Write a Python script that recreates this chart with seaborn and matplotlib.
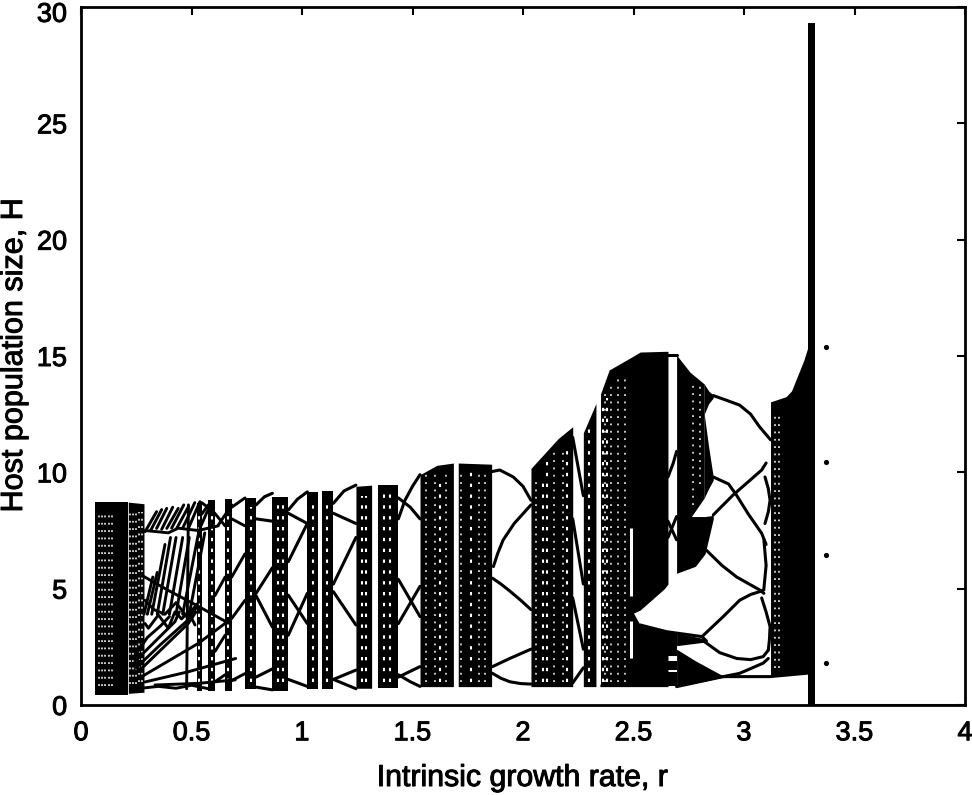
import matplotlib
matplotlib.use('Agg')
import matplotlib.pyplot as plt
import matplotlib.patheffects as pe
from matplotlib.transforms import ScaledTranslation
import pandas as pd
import seaborn as sns

# --- Data ---
# solid chaotic bands: r positions with lower and upper envelope of H
band_r = [[0.063, 0.214], [0.214, 0.285], [0.523, 0.546], [0.576, 0.606], [0.652, 0.682], [0.742, 0.792],
          [0.866, 0.938], [1.024, 1.074], [1.089, 1.142], [1.244, 1.315], [1.345, 1.436],
          [1.534, 1.61, 1.685], [1.707, 1.858], [2.036, 2.16, 2.225], [2.273, 2.33],
          [2.348, 2.39, 2.5], [2.5, 2.53, 2.64, 2.656], [2.5, 2.53, 2.656],
          [2.695, 2.756, 2.82], [2.82, 2.84, 2.861], [2.82, 2.84, 2.861],
          [2.695, 2.78, 2.824, 2.861], [2.695, 2.82], [2.695, 2.78, 2.906],
          [2.656, 2.695], [2.656, 2.695], [2.656, 2.695],
          [3.12, 3.19, 3.215, 3.27, 3.3], [3.29, 3.32]]
band_low = [[0.43, 0.43], [0.5, 0.55], [0.62, 0.62], [0.62, 0.62], [0.62, 0.62], [0.7, 0.7],
            [0.62, 0.62], [0.68, 0.68], [0.68, 0.68], [0.72, 0.72], [0.72, 0.72],
            [0.79, 0.79, 0.79], [0.79, 0.79], [0.79, 0.79, 0.79], [0.79, 0.79],
            [0.79, 0.79, 0.79], [3.95, 4.08, 5.0, 5.2], [0.79, 0.79, 0.79],
            [8.02, 8.02, 8.9], [12.5, 12.95, 13.2], [8.9, 9.3, 9.67],
            [5.66, 5.96, 6.5, 8.0], [2.55, 2.7], [0.79, 0.95, 1.2],
            [2.1, 2.1], [1.5, 1.5], [0.8, 0.8],
            [1.3, 1.33, 1.35, 1.38, 1.4], [0, 0]]
band_high = [[8.72, 8.72], [8.72, 8.65], [8.7, 8.7], [8.8, 8.8], [8.85, 8.85], [8.9, 8.9],
             [8.95, 8.95], [9.15, 9.15], [9.2, 9.2], [9.4, 9.45], [9.45, 9.45],
             [9.9, 10.3, 10.4], [10.4, 10.35], [10.17, 11.46, 11.96], [11.7, 12.96],
             [13.3, 14.4, 15.0], [15.0, 15.17, 15.2, 15.2], [3.95, 3.44, 3.15],
             [15.04, 14.3, 13.8], [13.8, 13.5, 13.32], [12.5, 11.1, 9.8],
             [8.1, 8.1, 8.1, 8.15], [3.1, 2.85], [2.4, 1.9, 1.25],
             [3.1, 3.1], [1.9, 1.9], [1.4, 1.4],
             [13.03, 13.25, 13.5, 14.8, 15.7], [29.3, 29.3]]

# fan of thin lines between the first band and r = 0.75
fan_r = [
    # rays out of the lower left corner
    [0.259, 0.486, 0.52], [0.275, 0.531, 0.682, 0.742], [0.29, 0.486, 0.70], [0.335, 0.531, 0.698],
    [0.244, 0.425, 0.445], [0.25, 0.36, 0.478, 0.523], [0.25, 0.30, 0.36, 0.40],
    # long parallel diagonals, lower half
    [0.285, 0.325], [0.30, 0.345], [0.32, 0.38], [0.345, 0.405], [0.37, 0.43], [0.40, 0.46], [0.43, 0.49], [0.46, 0.53],
    [0.49, 0.56],
    # shorter diagonals, upper half
    [0.29, 0.342], [0.315, 0.365], [0.342, 0.388], [0.365, 0.415], [0.388, 0.44], [0.41, 0.465], [0.433, 0.486],
    [0.46, 0.515], [0.486, 0.538], [0.538, 0.591], [0.621, 0.682],
    # wavy crossings
    [0.29, 0.395, 0.44, 0.53, 0.621], [0.29, 0.305, 0.35, 0.395, 0.425, 0.455, 0.486, 0.516],
    [0.27, 0.35, 0.43, 0.5, 0.576], [0.29, 0.33, 0.38, 0.43, 0.478, 0.54],
    [0.478, 0.486], [0.27, 0.40, 0.52, 0.652], [0.546, 0.60, 0.652], [0.606, 0.652], [0.606, 0.652],
    [0.682, 0.742], [0.682, 0.742], [0.682, 0.742], [0.682, 0.742], [0.546, 0.576], [0.606, 0.652],
]
fan_H = [
    [1.43, 3.51, 4.0], [1.22, 2.65, 3.72, 4.5], [0.99, 1.43, 2.0], [0.86, 0.93, 1.08],
    [1.87, 3.58, 4.0], [1.6, 2.6, 3.6, 4.2], [2.2, 2.9, 3.4, 3.8],
    [3.9, 5.5], [3.9, 5.7], [3.9, 6.9], [3.9, 7.2], [3.9, 7.2], [3.9, 7.2], [3.9, 7.2], [3.9, 7.3],
    [3.9, 7.4],
    [7.45, 8.31], [7.5, 8.4], [7.59, 8.45], [7.55, 8.5], [7.59, 8.45], [7.6, 8.6], [7.59, 8.52],
    [7.6, 8.7], [7.59, 8.74], [7.6, 8.74], [7.73, 8.6],
    [7.5, 7.4, 7.6, 7.5, 7.7], [3.5, 3.3, 3.87, 3.3, 4.0, 3.7, 4.0, 3.44],
    [0.72, 0.8, 0.72, 0.85, 0.7], [4.5, 4.1, 3.9, 4.4, 3.8, 4.5],
    [0.7, 8.6], [5.6, 4.9, 4.3, 3.6], [8.7, 8.3, 7.7], [4.7, 5.5], [1.0, 1.3],
    [8.5, 8.9], [8.0, 7.7], [5.5, 6.5], [1.05, 1.35], [8.2, 8.6], [2.3, 3.0],
]

# periodic windows, one list of points per branch
branch_r = [
    [3.30, 4.0],
    [0.792, 0.83, 0.866], [0.792, 0.866], [0.792, 0.866], [0.792, 0.866], [0.792, 0.866], [0.792, 0.866],
    [0.938, 0.98, 1.024], [0.938, 1.024], [0.938, 1.024], [0.938, 1.024], [0.938, 1.024], [0.938, 1.024],
    [1.142, 1.19, 1.244], [1.142, 1.244], [1.142, 1.244], [1.142, 1.244], [1.142, 1.244], [1.142, 1.244],
    [1.436, 1.466, 1.50, 1.534], [1.436, 1.49, 1.534], [1.436, 1.534], [1.436, 1.534], [1.436, 1.534], [1.436, 1.49, 1.534],
    [1.858, 1.895, 1.956, 2.0, 2.036], [1.866, 1.885, 1.91, 1.96, 2.036], [1.862, 1.90, 1.94, 1.99, 2.036],
    [1.862, 1.94, 2.036], [1.862, 1.90, 1.94, 1.99, 2.036],
    [2.225, 2.273], [2.225, 2.273], [2.225, 2.273], [2.225, 2.273],
    [2.656, 2.695], [2.656, 2.68, 2.695], [2.656, 2.695], [2.656, 2.695],
    [2.53, 2.65, 2.81, 2.83],
    [2.861, 2.92, 2.98, 3.03, 3.07, 3.12], [2.861, 2.93, 2.966, 3.02, 3.08, 3.1], [2.861, 2.95, 3.02, 3.08, 3.1],
    [3.095, 3.11, 3.118, 3.11, 3.095], [2.83, 2.90, 2.967, 3.07, 3.09], [2.81, 2.906, 2.98, 3.03, 3.07, 3.09],
    [2.82, 2.89, 2.967, 3.03, 3.087, 3.11], [2.906, 2.98, 3.087, 3.11], [2.906, 3.118, 3.3],
    [3.09, 3.1, 3.09], [3.08, 3.10, 3.118, 3.115, 3.11], [2.695, 2.906],
]
branch_H = [
    [0.0, 0.0],
    [8.6, 8.95, 9.1], [8.0, 7.9], [4.8, 5.9], [4.7, 3.35], [1.2, 1.55], [0.77, 0.65],
    [8.38, 8.85, 9.16], [8.24, 7.8], [6.16, 7.8], [4.72, 3.5], [3.0, 4.8], [1.1, 0.8],
    [8.67, 9.2, 9.45], [8.24, 7.8], [5.2, 7.2], [4.87, 3.44], [1.1, 1.5], [1.1, 0.7],
    [8.0, 8.8, 9.4, 9.9], [8.9, 8.5, 8.0], [5.4, 3.8], [3.5, 5.1], [1.2, 1.65], [1.3, 1.0, 0.8],
    [10.03, 10.1, 9.8, 9.4, 8.8], [5.95, 6.5, 7.09, 7.8, 8.6], [5.45, 5.2, 4.9, 4.5, 4.1],
    [1.65, 2.0, 2.4], [1.36, 1.15, 1.0, 0.92, 0.9],
    [11.5, 9.0], [8.0, 5.2], [4.6, 2.4], [0.95, 1.6],
    [15.05, 15.05], [9.8, 10.4, 10.9], [7.2, 8.1], [7.9, 7.1],
    [3.44, 3.15, 2.94, 2.75],
    [13.3, 13.1, 12.89, 12.5, 11.96, 11.4], [9.8, 9.5, 9.02, 8.2, 7.38, 6.9], [8.17, 9.02, 9.6, 10.1, 10.4],
    [9.8, 9.3, 8.8, 8.3, 7.8], [6.65, 6.0, 5.5, 4.95, 4.8], [2.94, 3.8, 4.5, 4.75, 4.87, 4.95],
    [2.73, 2.25, 2.0, 1.95, 2.08, 2.36], [1.22, 1.36, 1.8, 2.0], [1.22, 1.22, 1.38],
    [7.1, 6.0, 5.0], [4.6, 4.0, 3.37, 2.8, 2.36], [0.79, 1.22],
]

# lone points just past the collapse
dot_r = [3.37, 3.37, 3.37, 3.37]
dot_H = [15.4, 10.45, 6.45, 1.8]

# columns with fine holes inside the dark bands
fine_r = [0.08, 0.095, 0.11, 0.125, 0.14, 0.222, 0.236, 0.25, 0.264, 0.278,
          1.56, 1.60, 1.65, 1.72, 1.80, 1.83, 2.06, 2.14, 2.18, 2.37, 2.40, 2.43, 2.46,
          2.80, 2.77, 3.14, 3.16]
fine_low = [0.8, 0.8, 0.8, 0.8, 0.8, 0.9, 0.9, 0.9, 1.0, 1.0,
            1.0, 1.0, 1.0, 1.0, 1.0, 1.0, 1.0, 1.0, 1.0, 1.0, 1.0, 1.0, 1.0,
            9.5, 8.6, 1.6, 1.6]
fine_high = [8.4, 8.4, 8.4, 8.4, 8.4, 8.4, 8.4, 8.4, 8.3, 8.3,
             10.0, 10.0, 10.0, 10.0, 10.0, 10.0, 9.8, 11.0, 11.0, 13.5, 13.8, 14.0, 14.2,
             13.8, 13.8, 12.5, 12.5]

# wider chains of holes down the middle of the narrow bands
coarse_r = [0.535, 0.591, 0.667, 0.767, 0.89, 0.915, 1.05, 1.115, 1.27, 1.29, 1.37, 1.40,
            1.624, 1.763, 2.09, 2.11, 2.20, 2.30, 2.36, 2.38]
coarse_low = [1.0, 1.0, 1.0, 1.0, 1.0, 1.0, 1.0, 1.0, 1.0, 1.0, 1.0, 1.0,
              1.0, 1.0, 1.0, 1.0, 1.0, 1.0, 1.0, 1.0]
coarse_high = [8.2, 8.3, 8.3, 8.5, 8.6, 8.6, 8.8, 8.8, 9.0, 9.0, 9.1, 9.1,
               9.5, 10.0, 9.8, 10.5, 11.0, 12.0, 12.8, 13.2]

# plain white slits
slit_r = [1.696, 2.49, 2.49, 2.345]
slit_low = [0.9, 4.7, 2.0, 0.9]
slit_high = [10.2, 7.6, 3.6, 13.5]

x_ticks = [0, 0.5, 1, 1.5, 2, 2.5, 3, 3.5, 4]
x_labels = ['0', '0.5', '1', '1.5', '2', '2.5', '3', '3.5', '4']
y_ticks = [0, 5, 10, 15, 20, 25, 30]


def curve_table(rs_list, hs_list):
    rows = [(i, r, h) for i, (rs, hs) in enumerate(zip(rs_list, hs_list)) for r, h in zip(rs, hs)]
    return pd.DataFrame(rows, columns=['branch', 'r', 'H'])


# --- Plotting ---
sns.set_style('white')
plt.rcParams['font.family'] = ['Liberation Sans', 'DejaVu Sans']
plt.rcParams['lines.solid_joinstyle'] = 'round'
plt.rcParams['lines.solid_capstyle'] = 'round'

fig = plt.figure(figsize=(9.72, 7.95), dpi=100)
ax = fig.add_axes([81 / 972, 1 - 705 / 795, (965 - 81) / 972, (705 - 7) / 795])

for rs, lows, highs in zip(band_r, band_low, band_high):
    ax.fill_between(rs, lows, highs, color='black', lw=0, zorder=1)

ax.vlines(fine_r, fine_low, fine_high, color='white', lw=1.1, linestyles=(0, (1.2, 3.6)), zorder=2)
ax.vlines(coarse_r, coarse_low, coarse_high, color='white', lw=1.5, linestyles=(0, (1.6, 3.6)), zorder=2)
ax.vlines(slit_r, slit_low, slit_high, color='white', lw=2.2, zorder=2)

sns.lineplot(data=curve_table(fan_r, fan_H), x='r', y='H', units='branch', estimator=None, sort=False,
             color='black', lw=2.1, ax=ax, zorder=3)
sns.lineplot(data=curve_table(branch_r, branch_H), x='r', y='H', units='branch', estimator=None, sort=False,
             color='black', lw=2.2, ax=ax, zorder=3)
sns.scatterplot(data=pd.DataFrame({'r': dot_r, 'H': dot_H}), x='r', y='H', color='black', s=14,
                linewidth=0, ax=ax, zorder=3)

ax.set_xlim(0, 4)
ax.set_ylim(0, 30)
ax.set_xticks(x_ticks)
ax.set_xticklabels(x_labels)
ax.set_yticks(y_ticks)
ax.tick_params(direction='in', length=6, width=1.5, top=True, right=True, color='black',
               labelsize=19.5, labelcolor='black')
ax.tick_params(axis='x', pad=11)
ax.tick_params(axis='y', pad=10)
ax.set_xlabel('Intrinsic growth rate, r', fontsize=21.8, color='black', va='center')
ax.set_ylabel('Host population size, H', fontsize=22, color='black', va='center')
ax.xaxis.set_label_coords(0.499, -0.1046)
ax.yaxis.set_label_coords(-0.0758, 0.5)
for spine in ax.spines.values():
    spine.set_linewidth(2)
    spine.set_color('black')
    spine.set_visible(True)

# the scan thickens all the lettering a bit
thick = [pe.withStroke(linewidth=0.7, foreground='black')]
for txt in ax.get_xticklabels() + ax.get_yticklabels() + [ax.xaxis.label, ax.yaxis.label]:
    txt.set_path_effects(thick)

# top label sits right on the image edge, keep it inside
top_label = ax.get_yticklabels()[-1]
top_label.set_transform(top_label.get_transform() + ScaledTranslation(0, -3.5 / 72, fig.dpi_scale_trans))

fig.savefig('out.png', dpi=100)
